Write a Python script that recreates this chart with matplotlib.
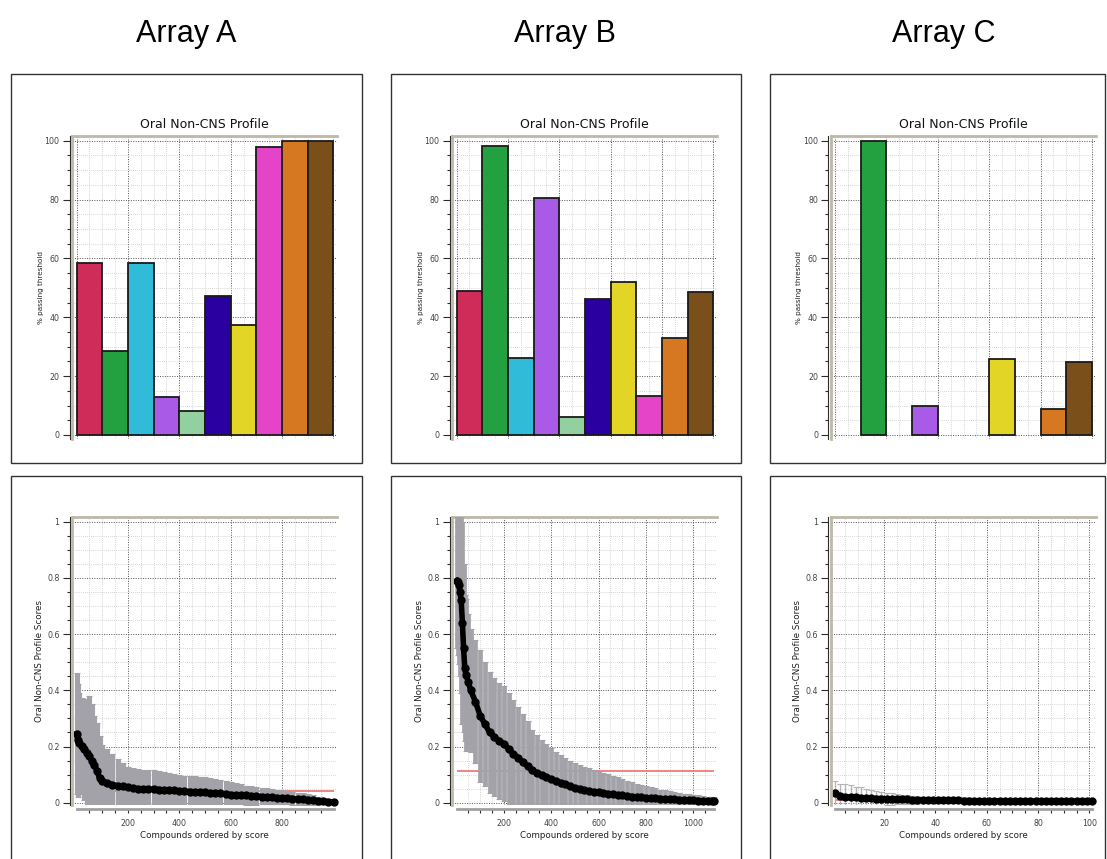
#Oral Non-CNS profile panels for three arrays
import numpy as np
import matplotlib
matplotlib.use("Agg")
from matplotlib import pyplot as plt
from matplotlib.ticker import MultipleLocator, FixedLocator, FuncFormatter
from matplotlib.patches import Rectangle

###Data###
array_names = ["Array A", "Array B", "Array C"]
bar_colors = ["#d02c5a", "#23a040", "#30bcd8", "#a95ae6", "#92d19f",
              "#2b00a0", "#e3d526", "#e644c8", "#d67822", "#7a4f1a"]

pass_a = [58.5, 28.5, 58.5, 13.0, 8.3, 47.3, 37.5, 97.8, 100, 100]
pass_b = [48.9, 98.3, 26.3, 80.4, 6.0, 46.3, 52.1, 13.2, 32.8, 48.7]
pass_c = [0, 100, 0, 9.9, 0, 0, 25.7, 0, 8.8, 24.7]

rank_a = [1, 5, 10, 20, 30, 40, 50, 60, 70, 80, 90, 100] + list(range(120, 1001, 20))
score_a = [0.245, 0.222, 0.212, 0.203, 0.190, 0.178, 0.165, 0.150, 0.135, 0.112, 0.088, 0.077,
           0.069, 0.064, 0.061, 0.058, 0.055, 0.052, 0.050, 0.049, 0.048, 0.048,
           0.047, 0.046, 0.045, 0.044, 0.042, 0.041, 0.040, 0.039, 0.038, 0.037,
           0.035, 0.034, 0.033, 0.031, 0.029, 0.028, 0.027, 0.026, 0.025, 0.024,
           0.022, 0.021, 0.020, 0.018, 0.017, 0.016, 0.015, 0.014, 0.012, 0.011,
           0.009, 0.007, 0.006, 0.004, 0.003]
sd_a = [0.215, 0.200, 0.180, 0.170, 0.180, 0.190, 0.215, 0.200, 0.175, 0.170, 0.150, 0.130,
        0.121, 0.111, 0.094, 0.082, 0.073, 0.072, 0.070, 0.069, 0.068, 0.067,
        0.065, 0.062, 0.060, 0.058, 0.057, 0.055, 0.055, 0.055, 0.055, 0.055,
        0.053, 0.050, 0.048, 0.046, 0.045, 0.041, 0.038, 0.035, 0.033, 0.032,
        0.032, 0.031, 0.030, 0.028, 0.027, 0.026, 0.024, 0.022, 0.021, 0.019,
        0.017, 0.015, 0.011, 0.008, 0.004]
thr_a = 0.043

rank_b = [1, 5, 10, 15, 20, 25, 30, 35, 40, 50] + list(range(60, 1081, 20)) + [1085]
score_b = [0.790, 0.785, 0.775, 0.750, 0.720, 0.640, 0.550, 0.480, 0.455, 0.430,
           0.400, 0.360, 0.310, 0.280, 0.250, 0.235, 0.220, 0.210, 0.190, 0.175,
           0.160, 0.145, 0.130, 0.115, 0.105, 0.097, 0.090, 0.083, 0.077, 0.071,
           0.065, 0.059, 0.053, 0.049, 0.045, 0.042, 0.039, 0.037, 0.035, 0.032,
           0.030, 0.028, 0.026, 0.024, 0.022, 0.021, 0.019, 0.018, 0.017, 0.016,
           0.015, 0.014, 0.013, 0.012, 0.011, 0.011, 0.010, 0.009, 0.008, 0.007,
           0.006, 0.005, 0.005]
sd_b = [0.24, 0.26, 0.28, 0.30, 0.33, 0.36, 0.30, 0.26, 0.27, 0.24,
        0.220, 0.220, 0.235, 0.220, 0.215, 0.210, 0.205, 0.205, 0.200, 0.190,
        0.180, 0.170, 0.160, 0.145, 0.135, 0.128, 0.120, 0.112, 0.103, 0.099,
        0.095, 0.091, 0.087, 0.084, 0.082, 0.080, 0.078, 0.075, 0.072, 0.070,
        0.066, 0.062, 0.059, 0.055, 0.051, 0.047, 0.044, 0.041, 0.038, 0.035,
        0.032, 0.030, 0.028, 0.026, 0.024, 0.021, 0.020, 0.019, 0.018, 0.017,
        0.016, 0.015, 0.015]
thr_b = 0.113

rank_c = list(range(1, 102, 2))
score_c = [0.033, 0.023, 0.021, 0.020, 0.019, 0.018, 0.017, 0.016, 0.015, 0.015,
           0.014, 0.013, 0.013, 0.012, 0.012, 0.010, 0.010, 0.010, 0.010, 0.009,
           0.009, 0.009, 0.009, 0.009, 0.009, 0.008, 0.008, 0.007, 0.007, 0.007,
           0.007, 0.007, 0.007, 0.007, 0.007, 0.007, 0.007, 0.006, 0.006, 0.006,
           0.006, 0.006, 0.006, 0.006, 0.006, 0.006, 0.006, 0.006, 0.006, 0.006, 0.006]
sd_c = [0.046, 0.044, 0.046, 0.042, 0.038, 0.037, 0.033, 0.029, 0.028, 0.025,
        0.021, 0.020, 0.018, 0.017, 0.015, 0.014, 0.014, 0.012, 0.011, 0.011,
        0.010, 0.009, 0.008, 0.007, 0.007, 0.007, 0.006, 0.003, 0.003, 0.003,
        0.003, 0.003, 0.003, 0.003, 0.003, 0.003, 0.003, 0.002, 0.002, 0.002,
        0.002, 0.002, 0.002, 0.002, 0.002, 0.002, 0.002, 0.002, 0.002, 0.002, 0.002]
thr_c = 0.009

###Layout###
W, H = 1107, 859
TAN = "#bdb8a8"
DARK = "#2b2b2b"
box_x = [(11, 362), (391, 741), (769.5, 1105)]
header_x = [186, 565, 944]

fig = plt.figure(figsize=(W / 100, H / 100), dpi=100)

def px_axes(x0, y0, x1, y1):
    return fig.add_axes([x0 / W, 1 - y1 / H, (x1 - x0) / W, (y1 - y0) / H])

def frame(ax):
    ax.spines["right"].set_visible(False)
    ax.spines["bottom"].set_visible(False)
    ax.spines["top"].set_color(TAN)
    ax.spines["top"].set_linewidth(2)
    ax.spines["left"].set_color(DARK)
    ax.spines["left"].set_linewidth(0.8)
    ax.spines["left"].set_position(("outward", 1.5))
    ax.plot([0, 0], [0, 1], transform=ax.transAxes, color=TAN, lw=2, clip_on=False, zorder=6)
    ax.set_axisbelow(True)
    ax.grid(True, which="major", color="#555555", linestyle=(0, (1, 1.5)), linewidth=0.7)
    ax.grid(True, which="minor", color="#c8c8c8", linestyle=(0, (1, 1.5)), linewidth=0.6)
    ax.tick_params(axis="y", which="major", length=5, width=0.8, color=DARK, pad=2.5,
                   labelsize=5.7, labelcolor="#444444")
    ax.tick_params(axis="y", which="minor", length=2.5, width=0.8, color=DARK)

def bar_panel(ax, values):
    pos = np.arange(len(values))
    keep = [i for i in pos if values[i] > 0]
    ax.bar([pos[i] for i in keep], [values[i] for i in keep], width=1.0, align="edge",
           color=[bar_colors[i] for i in keep], edgecolor="#1a1a1a", linewidth=1.3, zorder=3)
    frame(ax)
    ax.set_xlim(-0.18, 10.14)
    ax.set_ylim(-1.36, 101.7)
    ax.xaxis.set_major_locator(MultipleLocator(2))
    ax.xaxis.set_minor_locator(MultipleLocator(0.5))
    ax.yaxis.set_major_locator(MultipleLocator(20))
    ax.yaxis.set_minor_locator(MultipleLocator(5))
    ax.tick_params(axis="x", which="both", length=0, labelbottom=False)
    ax.set_title("Oral Non-CNS Profile", fontsize=9, pad=5.8, color="#111111")
    ax.set_ylabel("% passing threshold", fontsize=5.2, color="#222222")
    ax.yaxis.set_label_coords(-0.106, 0.5)

def score_panel(ax, ranks, scores, sds, thr, major, minor, elw, ecol):
    n = ranks[-1]
    s = (265 - 8.2) / (n - 1)
    ax.hlines(thr, ranks[0], ranks[-1], color="#ee6f6f", lw=1.2, zorder=2)
    ax.errorbar(ranks, scores, yerr=sds, fmt="none", ecolor=ecol, elinewidth=elw,
                capsize=2.5, capthick=0.8, zorder=3)
    ax.plot(ranks, scores, "-o", color="black", ms=5, lw=4, zorder=4, clip_on=False)
    frame(ax)
    ax.set_xlim(1 - 4.7 / s, n + 3.5 / s)
    ax.set_ylim(-0.008, 1.0157)
    ax.spines["bottom"].set_visible(True)
    ax.spines["bottom"].set_color("#a0a0a0")
    ax.spines["bottom"].set_linewidth(2)
    ax.spines["bottom"].set_position(("outward", 3))
    ax.spines["bottom"].set_bounds(ranks[0], n)
    ax.xaxis.set_major_locator(FixedLocator([t for t in np.arange(major, n, major)]))
    ax.xaxis.set_minor_locator(FixedLocator([t for t in np.arange(minor, n, minor)]))
    ax.yaxis.set_major_locator(MultipleLocator(0.2))
    ax.yaxis.set_minor_locator(MultipleLocator(0.05))
    ax.yaxis.set_major_formatter(FuncFormatter(lambda v, p: "%g" % round(v, 2)))
    ax.tick_params(axis="x", which="both", length=3, width=0.8, color=DARK, pad=4,
                   labelsize=5.7, labelcolor="#444444")
    ax.set_xlabel("Compounds ordered by score", fontsize=6.3, color="#222222")
    ax.xaxis.set_label_coords(0.5, -0.09)
    ax.set_ylabel("Oral Non-CNS Profile Scores", fontsize=6.3, color="#222222")
    ax.yaxis.set_label_coords(-0.106, 0.5)

# panel boxes and headers
for (x0, x1), hx, name in zip(box_x, header_x, array_names):
    for y0, y1 in [(74, 463), (476, 900)]:
        fig.add_artist(Rectangle((x0 / W, 1 - y1 / H), (x1 - x0) / W, (y1 - y0) / H,
                                 transform=fig.transFigure, fill=False, ec="#333333", lw=1))
    fig.text(hx / W, 1 - 42.3 / H, name, ha="center", va="baseline", fontsize=22,
             family=["Liberation Sans", "DejaVu Sans"], color="black")

passes = [pass_a, pass_b, pass_c]
scores = [(rank_a, score_a, sd_a, thr_a, 200, 50, 3.7, "#a2a2a8"),
          (rank_b, score_b, sd_b, thr_b, 200, 50, 3.4, "#a2a2a8"),
          (rank_c, score_c, sd_c, thr_c, 20, 5, 1.0, "#b4b4b8")]

for i, (x0, x1) in enumerate(box_x):
    ax_top = px_axes(x0 + 61, 135.7, x0 + 326, 439)
    bar_panel(ax_top, passes[i])
    ax_bot = px_axes(x0 + 61, 517.3, x0 + 326, 805)
    score_panel(ax_bot, *scores[i])

fig.savefig("out.png", dpi=100)
